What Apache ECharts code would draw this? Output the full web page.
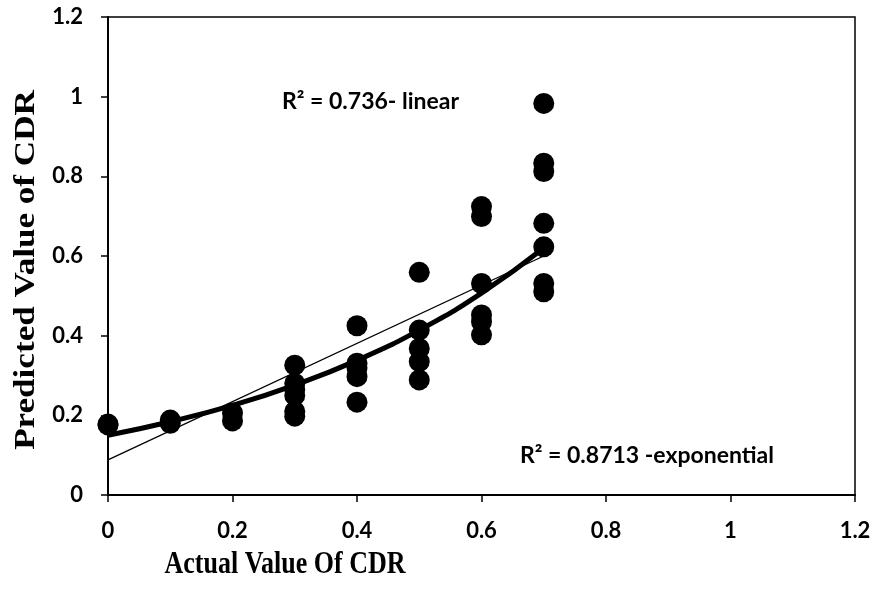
<!DOCTYPE html>
<html>
<head>
<meta charset="utf-8">
<script src="https://cdn.jsdelivr.net/npm/echarts@6/dist/echarts.min.js"></script>
<style>
  html, body { margin: 0; padding: 0; background: #fff; }
  #chart { width: 877px; height: 601px; }
</style>
</head>
<body>
<div id="chart"></div>
<script>
// actual CDR vs predicted CDR
const actualX = [0, 0,
  0.1, 0.1,
  0.2, 0.2,
  0.3, 0.3, 0.3, 0.3, 0.3, 0.3,
  0.4, 0.4, 0.4, 0.4, 0.4,
  0.5, 0.5, 0.5, 0.5, 0.5,
  0.6, 0.6, 0.6, 0.6, 0.6, 0.6,
  0.7, 0.7, 0.7, 0.7, 0.7, 0.7, 0.7];
const predictedY = [0.178, 0.176,
  0.18, 0.188,
  0.206, 0.186,
  0.326, 0.28, 0.265, 0.25, 0.21, 0.198,
  0.425, 0.331, 0.319, 0.297, 0.233,
  0.559, 0.414, 0.368, 0.335, 0.289,
  0.724, 0.699, 0.531, 0.452, 0.435, 0.402,
  0.983, 0.833, 0.812, 0.682, 0.623, 0.531, 0.51];

// trend lines as they appear on the figure
const expTrendX = [0, 0.1, 0.2, 0.3, 0.4, 0.5, 0.6, 0.7];
const expTrendY = [0.15, 0.184, 0.225, 0.276, 0.338, 0.414, 0.507, 0.62];
const linTrendX = [0, 0.7];
const linTrendY = [0.088, 0.6];

const pts = actualX.map((x, i) => [x, predictedY[i]]);
const expLine = expTrendX.map((x, i) => [x, expTrendY[i]]);
const linLine = linTrendX.map((x, i) => [x, linTrendY[i]]);

const labelStyle = { color: '#000', fontWeight: 'bold', fontSize: 22, fontFamily: 'Lato' };

const chart = echarts.init(document.getElementById('chart'));
chart.setOption({
  animation: false,
  backgroundColor: '#fff',
  grid: { left: 108, right: 22, top: 17, bottom: 106, show: true, borderColor: '#000', borderWidth: 1.5 },
  xAxis: {
    type: 'value', min: 0, max: 1.2, interval: 0.2,
    axisLine: { onZero: false, lineStyle: { color: '#000', width: 2 } },
    axisTick: { show: true, inside: false, length: 7, lineStyle: { color: '#000', width: 1.5 } },
    splitLine: { show: false },
    axisLabel: Object.assign({ margin: 25 }, labelStyle)
  },
  yAxis: {
    type: 'value', min: 0, max: 1.2, interval: 0.2,
    axisLine: { show: true, onZero: false, lineStyle: { color: '#000', width: 2 } },
    axisTick: { show: true, inside: false, length: 7, lineStyle: { color: '#000', width: 1.5 } },
    splitLine: { show: false },
    axisLabel: Object.assign({ margin: 25 }, labelStyle)
  },
  graphic: [
    { type: 'text', x: 285, y: 565, scaleY: 1.25,
      style: { text: 'Actual Value Of CDR', fill: '#000', font: 'bold 26px "Liberation Serif"',
        textAlign: 'center', textVerticalAlign: 'middle' } },
    { type: 'text', x: 26, y: 270, rotation: Math.PI / 2, scaleX: 1.17,
      style: { text: 'Predicted Value of CDR', fill: '#000', font: 'bold 30px "Liberation Serif"',
        textAlign: 'center', textVerticalAlign: 'middle' } },
    { type: 'text', left: 282, top: 90,
      style: { text: 'R² = 0.736- linear', fill: '#000', font: 'bold 23px Lato' } },
    { type: 'text', left: 520, top: 444,
      style: { text: 'R² = 0.8713 -exponential', fill: '#000', font: 'bold 23px Lato' } }
  ],
  series: [
    { type: 'scatter', data: pts, symbol: 'circle', symbolSize: 21,
      itemStyle: { color: '#000', opacity: 1 }, z: 2 },
    { type: 'line', data: expLine, smooth: true, symbol: 'none',
      lineStyle: { color: '#000', width: 5 }, z: 3 },
    { type: 'line', data: linLine, symbol: 'none',
      lineStyle: { color: '#000', width: 1.3 }, z: 4 }
  ]
});
</script>
</body>
</html>
